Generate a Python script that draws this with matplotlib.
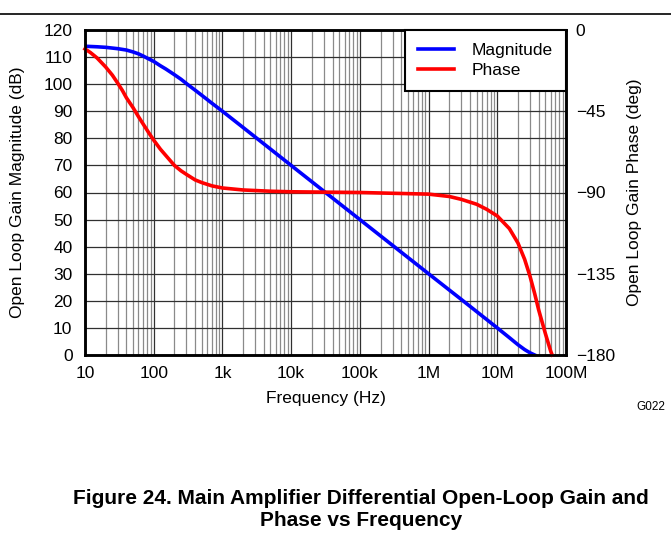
import matplotlib
matplotlib.use("Agg")
import matplotlib.pyplot as plt
from matplotlib.ticker import FixedLocator, NullFormatter
import numpy as np

plt.rcParams['font.family'] = ['Liberation Sans', 'DejaVu Sans']

# values
freq_mag = [10, 15, 20, 30, 40, 50, 60, 70, 85, 100, 125, 150, 200, 250, 300, 400, 500,
            700, 1e3, 2e3, 1e4, 1e5, 1e6, 3e6, 1e7, 1.5e7, 2e7, 2.5e7, 3e7, 3.5e7]
mag_db = [114, 113.8, 113.6, 113.1, 112.6, 111.9, 111.2, 110.4, 109.3, 108.4, 106.8, 105.6,
          103.5, 101.8, 100.2, 97.8, 95.9, 93.0, 90, 84, 70, 50, 30, 20.5, 10, 6.4, 3.8,
          2.0, 0.8, 0]

freq_ph = [10, 12, 15, 20, 25, 30, 35, 40, 50, 60, 70, 85, 100, 125, 150, 200, 250, 300,
           400, 500, 700, 1e3, 2e3, 5e3, 1e4, 1e5, 1e6, 2e6, 3e6, 5e6, 7e6, 1e7, 1.5e7,
           2e7, 2.5e7, 3e7, 3.5e7, 4e7, 5e7, 6e7, 6.3e7]
phase_deg = [-10.5, -12.5, -15.5, -20.5, -25, -29.5, -33.5, -37.5, -43, -48, -52, -57,
             -61, -66, -69.5, -75, -78, -80, -83, -84.5, -86.3, -87.5, -88.6, -89.3, -89.6,
             -90, -90.9, -92.2, -93.8, -96.5, -99.3, -103, -110, -118, -127, -136.5,
             -146, -155, -168, -178, -180]

xticks = [10, 100, 1e3, 1e4, 1e5, 1e6, 1e7, 1e8]
xlabels = ['10', '100', '1k', '10k', '100k', '1M', '10M', '100M']
mag_ticks = list(range(0, 121, 10))
phase_ticks = [-180, -135, -90, -45, 0]
phase_labels = ['\u2212180', '\u2212135', '\u221290', '\u221245', '0']

fig = plt.figure(figsize=(6.71, 5.56), dpi=100)
ax = fig.add_axes([85 / 671, 1 - 355 / 556, 481 / 671, 325 / 556])
ax2 = ax.twinx()

ax.set_xscale('log')
ax.set_xlim(10, 1e8)
ax.set_ylim(0, 120)
ax2.set_ylim(-180, 0)

ax.set_xticks(xticks)
ax.set_xticklabels(xlabels)
ax.xaxis.set_minor_locator(FixedLocator(
    [m * 10 ** e for e in range(1, 8) for m in range(2, 10)]))
ax.xaxis.set_minor_formatter(NullFormatter())
ax.set_yticks(mag_ticks)
ax2.set_yticks(phase_ticks)
ax2.set_yticklabels(phase_labels)

ax.grid(True, which='major', color='#303030', linewidth=0.9)
ax.grid(True, which='minor', axis='x', color='#8a8a8a', linewidth=0.9)
ax.set_axisbelow(True)

for a in (ax, ax2):
    a.tick_params(which='both', length=0, labelsize=12.5, pad=7)
    for s in a.spines.values():
        s.set_linewidth(1.8)
ax.tick_params(axis='y', pad=9)
ax.tick_params(axis='x', pad=8)

l1, = ax.plot(freq_mag, mag_db, color='#0000ff', linewidth=2.6, label='Magnitude')
l2, = ax2.plot(freq_ph, phase_deg, color='#ff0000', linewidth=2.6, label='Phase',
               clip_on=False)

leg = ax2.legend(handles=[l1, l2], loc='upper right', fontsize=12.5, fancybox=False,
                 framealpha=1, edgecolor='black', borderaxespad=0, handlelength=2.1,
                 handletextpad=1.0, borderpad=0.75, labelspacing=0.25)
leg.get_frame().set_linewidth(1.5)

ax.set_xlabel('Frequency (Hz)', fontsize=12.5, labelpad=7)
ax.set_ylabel('Open Loop Gain Magnitude (dB)', fontsize=12.5, labelpad=13)
ax2.set_ylabel('Open Loop Gain Phase (deg)', fontsize=12.5, labelpad=9)

fig.text(651 / 671, 1 - 407 / 556, 'G022', fontsize=8.5, ha='center', va='center')
fig.add_artist(plt.Line2D([0, 1], [1 - 14 / 556, 1 - 14 / 556], color='black', linewidth=1.2))
fig.text(361 / 671, 1 - 499 / 556,
         'Figure 24. Main Amplifier Differential Open-Loop Gain and',
         fontsize=15, fontweight='bold', ha='center', va='center')
fig.text(361 / 671, 1 - 520 / 556, 'Phase vs Frequency',
         fontsize=15, fontweight='bold', ha='center', va='center')

fig.savefig('out.png', dpi=100)
